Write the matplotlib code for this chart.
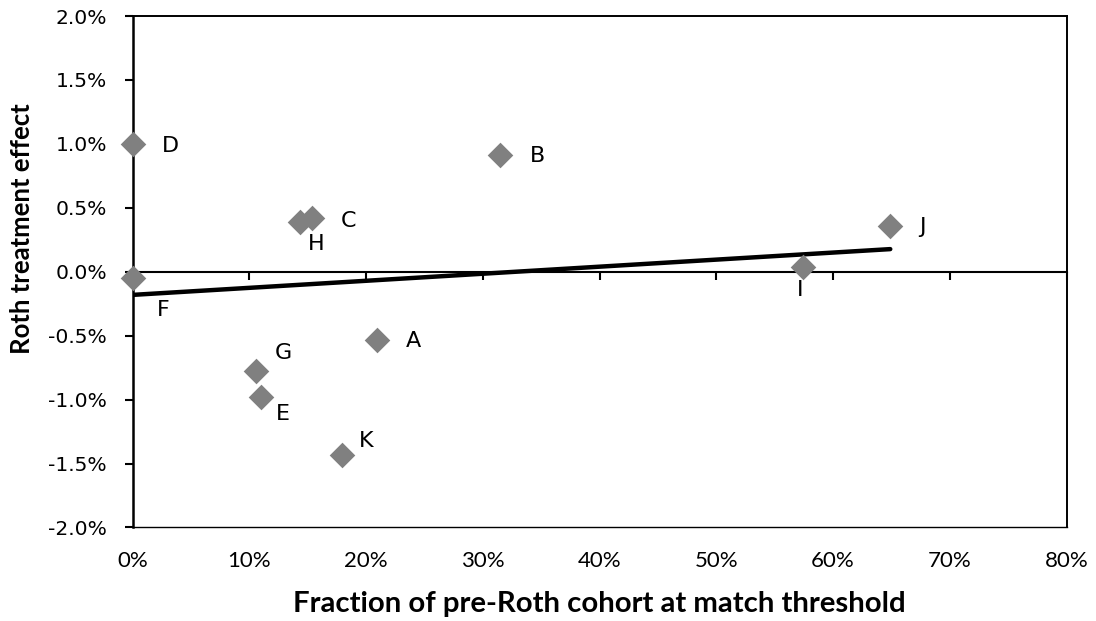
"""
Roth treatment effect vs fraction of pre-Roth cohort at match threshold
"""
import matplotlib
matplotlib.use('Agg')
import matplotlib.pyplot as plt
from matplotlib.ticker import FuncFormatter
import numpy as np

# Data (percent units)
labels = ['A', 'B', 'C', 'D', 'E', 'F', 'G', 'H', 'I', 'J', 'K']
frac_pre_roth = [20.9, 31.5, 15.4, 0.0, 11.0, 0.0, 10.6, 14.3, 57.4, 64.9, 17.9]
roth_effect = [-0.53, 0.91, 0.42, 1.00, -0.98, -0.045, -0.78, 0.39, 0.04, 0.36, -1.43]

x_ticks = [0, 10, 20, 30, 40, 50, 60, 70, 80]
y_ticks = [-2.0, -1.5, -1.0, -0.5, 0.0, 0.5, 1.0, 1.5, 2.0]

# Label placement relative to marker, in pixels
label_offsets = {
    'A': (37, -1), 'B': (37, -1), 'C': (36, -3), 'D': (38, -2),
    'E': (22, -17), 'F': (31, -32), 'G': (27, 18), 'H': (17, -22),
    'I': (-3, -23), 'J': (32, -1), 'K': (25, 14),
}

MARKER_COLOR = '#808080'
LINE_COLOR = '#000000'

fig = plt.figure(figsize=(10.96, 6.21), dpi=100)
ax = fig.add_axes([0.1211, 0.1506, 0.8520, 0.8236])

ax.set_xlim(0, 80)
ax.set_ylim(-2, 2)

# Linear trendline over the data range
x = np.array(frac_pre_roth)
y = np.array(roth_effect)
slope, intercept = np.polyfit(x, y, 1)
xs = np.array([x.min(), x.max()])
ax.plot(xs, slope * xs + intercept, color=LINE_COLOR, linewidth=3.2,
        solid_capstyle='round', zorder=3)

ax.scatter(x, y, marker='D', s=170, color=MARKER_COLOR, linewidths=0,
           zorder=4, clip_on=False)

for lab, xi, yi in zip(labels, frac_pre_roth, roth_effect):
    dx, dy = label_offsets[lab]
    ax.annotate(lab, (xi, yi), xytext=(dx, dy), textcoords='offset pixels',
                ha='center', va='center', fontsize=16, family='DejaVu Sans',
                color='black', zorder=5)

# Y axis
ax.set_yticks(y_ticks)
ax.yaxis.set_major_formatter(FuncFormatter(lambda v, p: f'{v:.1f}%'))
ax.tick_params(axis='y', direction='out', length=6, width=1.5, pad=12.5,
               labelsize=14.6, colors='black')
for t in ax.get_yticklabels():
    t.set_family('DejaVu Sans')

# Bottom spine acts as the zero line with tick marks
ax.spines['bottom'].set_position(('data', 0))
ax.spines['bottom'].set_linewidth(1.5)
ax.set_xticks(x_ticks)
ax.tick_params(axis='x', direction='out', length=6, width=1.5,
               labelbottom=False)

ax.spines['left'].set_linewidth(1.8)
ax.spines['top'].set_linewidth(1.4)
ax.spines['right'].set_linewidth(1.4)

# Bottom border carries the x tick labels
sec = ax.secondary_xaxis(0)
sec.set_xticks(x_ticks)
sec.xaxis.set_major_formatter(FuncFormatter(lambda v, p: f'{v:.0f}%'))
sec.tick_params(axis='x', length=0, pad=17, labelsize=16)
sec.spines['bottom'].set_linewidth(1.0)
for t in sec.get_xticklabels():
    t.set_family('Lato')

sec.set_xlabel('Fraction of pre-Roth cohort at match threshold',
               fontsize=21.2, fontweight='bold', family='Lato', labelpad=14)
ax.set_ylabel('Roth treatment effect', fontsize=18.5, fontweight='bold',
              family='Lato')
ax.yaxis.set_label_coords(-0.106, 0.585)

fig.savefig('out.png', dpi=100, facecolor='white')
plt.close(fig)
